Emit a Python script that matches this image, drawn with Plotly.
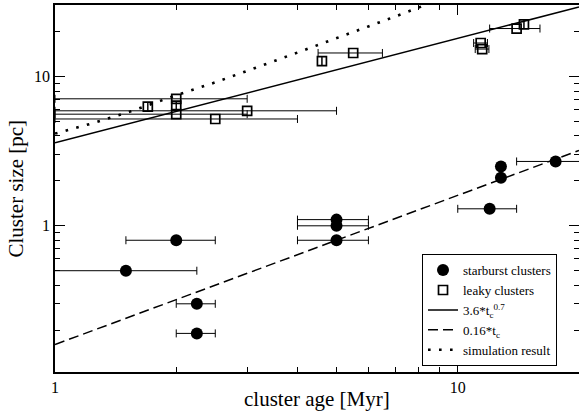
import plotly.graph_objects as go
import math

# ---- data ----
sb_age = [1.5, 2.0, 2.25, 2.25, 5.0, 5.0, 5.0, 12.0, 12.8, 12.8, 17.5]
sb_size = [0.5, 0.8, 0.3, 0.19, 1.1, 1.0, 0.8, 1.3, 2.5, 2.1, 2.7]
sb_age_err = [0.75, 0.5, 0.25, 0.25, 1.0, 1.0, 1.0, 2.0, 0.0, 0.0, 3.5]

lk_age = [1.7, 2.0, 2.0, 2.0, 2.5, 3.0, 4.6, 5.5, 11.4, 11.5, 14.0, 14.6]
lk_size = [6.3, 7.1, 6.4, 5.6, 5.2, 5.9, 12.7, 14.4, 16.8, 15.3, 21.0, 22.4]
lk_age_err = [0.0, 1.0, 0.0, 1.0, 1.5, 2.0, 0.0, 1.0, 0.45, 0.45, 2.0, 0.0]

fit_age = [1.0, 20.0]
fit1_size = [3.6, 29.3]    # 3.6*t^0.7
fit2_size = [0.16, 3.2]    # 0.16*t

sim_age = [1, 1.25, 1.5, 2, 2.5, 3, 3.5, 4, 5, 6, 7, 8, 9]
sim_size = [4.15, 4.9, 5.7, 7.5, 9.15, 11.0, 12.7, 14.5, 18.0, 21.7, 25.3, 29.1, 32.8]

x_ticks = [1, 10]
y_ticks = [1, 10]
x_minor = [2, 3, 4, 5, 6, 7, 8, 9, 20]
y_minor = [0.2, 0.3, 0.4, 0.5, 0.6, 0.7, 0.8, 0.9, 2, 3, 4, 5, 6, 7, 8, 9, 20]

x_title = "cluster age [Myr]"
y_title = "Cluster size [pc]"

FONT = "Liberation Serif"

fig = go.Figure()

fig.add_trace(go.Scatter(
    x=sb_age, y=sb_size, mode="markers", name="starburst clusters",
    marker=dict(symbol="circle", size=12, color="black"),
    error_x=dict(type="data", array=sb_age_err, symmetric=True,
                 color="black", thickness=1, width=4),
))
fig.add_trace(go.Scatter(
    x=lk_age, y=lk_size, mode="markers", name="leaky clusters",
    marker=dict(symbol="square-open", size=9, color="black",
                line=dict(width=1.7, color="black")),
    error_x=dict(type="data", array=lk_age_err, symmetric=True,
                 color="black", thickness=1, width=4),
))
fig.add_trace(go.Scatter(
    x=fit_age, y=fit1_size, mode="lines", name="3.6*t<sub>c</sub><sup>0.7</sup>",
    line=dict(color="black", width=1.5),
))
fig.add_trace(go.Scatter(
    x=fit_age, y=fit2_size, mode="lines", name="0.16*t<sub>c</sub>",
    line=dict(color="black", width=1.5, dash="10px,5px"),
))
fig.add_trace(go.Scatter(
    x=sim_age, y=sim_size, mode="lines", name="simulation result",
    line=dict(color="black", width=2.6, dash="2.6px,8.4px"),
))

axis_common = dict(
    type="log", showgrid=False, zeroline=False, automargin=False,
    showline=True, linecolor="black", linewidth=1.5, mirror="ticks",
    ticks="inside", ticklen=10, tickwidth=1, tickcolor="black",
    tickfont=dict(family=FONT, size=16, color="black"),
)

fig.update_xaxes(
    **axis_common,
    range=[0, math.log10(20)],
    tickmode="array", tickvals=x_ticks, ticktext=[str(v) for v in x_ticks],
    minor=dict(tickmode="array", tickvals=x_minor, ticks="inside", ticklen=5,
               tickwidth=1, tickcolor="black", showgrid=False),
)
fig.update_yaxes(
    **axis_common,
    range=[-0.98, 1.48],
    tickmode="array", tickvals=y_ticks, ticktext=[str(v) for v in y_ticks],
    minor=dict(tickmode="array", tickvals=y_minor, ticks="inside", ticklen=5,
               tickwidth=1, tickcolor="black", showgrid=False),
)

fig.add_annotation(text=x_title, xref="paper", yref="paper", x=0.5, y=0,
                   xanchor="center", yanchor="middle", yshift=-27, showarrow=False,
                   font=dict(family=FONT, size=21, color="black"))
fig.add_annotation(text=y_title, xref="paper", yref="paper", x=0, y=0.5,
                   xanchor="center", yanchor="middle", xshift=-40, textangle=-90,
                   showarrow=False, font=dict(family=FONT, size=21, color="black"))

fig.update_layout(
    width=579, height=417,
    margin=dict(l=55, r=0, t=5, b=45),
    paper_bgcolor="white", plot_bgcolor="white",
    font=dict(family=FONT, color="black"),
    legend=dict(
        x=0.7004, y=0.016, xanchor="left", yanchor="bottom",
        bgcolor="white", bordercolor="black", borderwidth=1,
        font=dict(family=FONT, size=13, color="black"),
        itemwidth=30, tracegroupgap=0,
    ),
    showlegend=True,
)

fig.write_html("out.html", config={"displayModeBar": False},
               post_script="document.body.style.margin='0';document.body.style.overflow='hidden';")
